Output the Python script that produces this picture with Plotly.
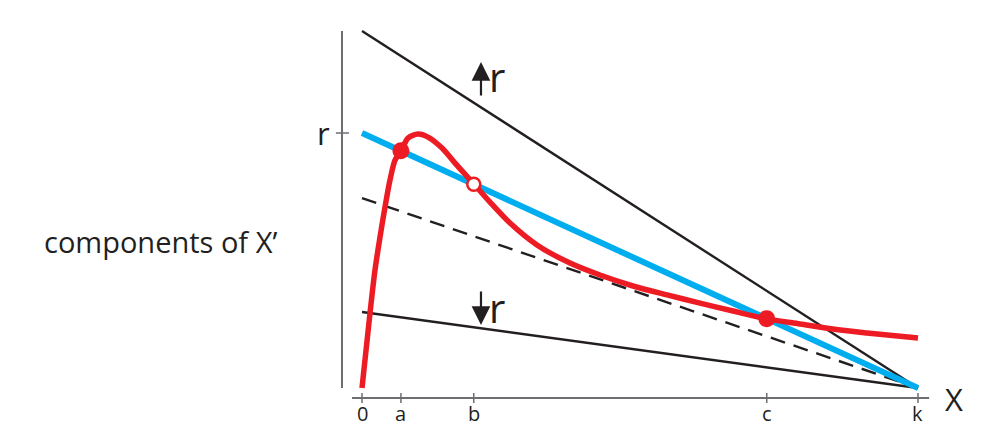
import plotly.graph_objects as go

# ---- data (x in units of carrying capacity k, y in units of r) ----
tick_labels = ["0", "a", "b", "c", "k"]
tick_values = [0.0, 0.070, 0.201, 0.728, 1.0]

k = 1.0
r = 1.0
# intercepts of the per-capita lines (value at X = 0)
line_names = ["higher r", "r", "dashed", "lower r"]
line_intercepts = [1.40, 1.00, 0.745, 0.298]

# red curve (components of X')
curve_x = [0.0, 0.0144, 0.0234, 0.0324, 0.0414, 0.0504, 0.0594, 0.0701, 0.0827,
           0.1007, 0.1187, 0.1439, 0.1673, 0.2014, 0.2302, 0.2662, 0.3147,
           0.3741, 0.428, 0.4874, 0.5486, 0.6079, 0.6673, 0.7284, 0.7878,
           0.8471, 0.9083, 1.0]
curve_y = [0.0, 0.294, 0.463, 0.592, 0.710, 0.816, 0.894, 0.929, 0.980,
           0.996, 0.984, 0.941, 0.882, 0.800, 0.729, 0.647, 0.561,
           0.490, 0.443, 0.400, 0.365, 0.333, 0.302, 0.271, 0.251,
           0.231, 0.216, 0.196]

stable_x = [0.070, 0.728]
unstable_x = [0.201]

BLACK = "#231f20"
BLUE = "#00aeef"
RED = "#ed1c24"
GREY = "#6d6e71"
FONT = "Open Sans"

fig = go.Figure()

# axes lines
fig.add_trace(go.Scatter(x=[-0.036, -0.036], y=[1.40, 0.0], mode="lines",
                         line=dict(color=GREY, width=2), hoverinfo="skip"))
fig.add_trace(go.Scatter(x=[-0.018, 1.02], y=[-0.039, -0.039], mode="lines",
                         line=dict(color=GREY, width=2), hoverinfo="skip"))
# x ticks
for tv in tick_values:
    fig.add_trace(go.Scatter(x=[tv, tv], y=[-0.0196, -0.0588], mode="lines",
                             line=dict(color=GREY, width=1.5), hoverinfo="skip"))
# y tick at r
fig.add_trace(go.Scatter(x=[-0.047, -0.0234], y=[r, r], mode="lines",
                         line=dict(color=GREY, width=1.5), hoverinfo="skip"))

# straight lines
styles = {
    "higher r": dict(color=BLACK, width=2.4),
    "r": dict(color=BLUE, width=6),
    "dashed": dict(color=BLACK, width=2.4, dash="15px,9px"),
    "lower r": dict(color=BLACK, width=2.4),
}
order = ["higher r", "lower r", "dashed", "r"]
for nm in order:
    b = line_intercepts[line_names.index(nm)]
    fig.add_trace(go.Scatter(x=[0, k], y=[b * r, 0], mode="lines",
                             line=styles[nm], hoverinfo="skip"))

# red curve
fig.add_trace(go.Scatter(x=curve_x, y=curve_y, mode="lines",
                         line=dict(color=RED, width=5.5, shape="spline", smoothing=0.8),
                         hoverinfo="skip"))

# equilibria on blue line
blue_b = line_intercepts[line_names.index("r")]
fig.add_trace(go.Scatter(x=stable_x, y=[blue_b * (1 - xv / k) for xv in stable_x],
                         mode="markers",
                         marker=dict(color=RED, size=17, line=dict(width=0)),
                         hoverinfo="skip"))
fig.add_trace(go.Scatter(x=unstable_x, y=[blue_b * (1 - xv / k) for xv in unstable_x],
                         mode="markers",
                         marker=dict(color="white", size=13, line=dict(color=RED, width=2.5)),
                         hoverinfo="skip"))

annotations = []
for lab, tv in zip(tick_labels, tick_values):
    annotations.append(dict(x=tv, y=-0.100, text=lab, showarrow=False,
                            font=dict(size=20, color=BLACK, family=FONT)))
annotations.append(dict(x=-0.070, y=r, text="r", showarrow=False, xanchor="center",
                        font=dict(size=31, color=BLACK, family=FONT)))
annotations.append(dict(x=1.065, y=-0.045, text="X", showarrow=False,
                        font=dict(size=31, color=BLACK, family=FONT)))
annotations.append(dict(x=-0.363, y=0.573, text="components of X\u2019", showarrow=False,
                        font=dict(size=29, color=BLACK, family=FONT)))
# arrows for r changes
annotations.append(dict(x=0.214, y=1.278, ax=0.214, ay=1.141, xref="x", yref="y",
                        axref="x", ayref="y", text="", showarrow=True,
                        arrowhead=2, arrowsize=1.7, arrowwidth=2.2, arrowcolor=BLACK,
                        standoff=0, startstandoff=0))
annotations.append(dict(x=0.242, y=1.222, text="r", showarrow=False,
                        font=dict(size=40, color=BLACK, family=FONT)))
annotations.append(dict(x=0.214, y=0.247, ax=0.214, ay=0.384, xref="x", yref="y",
                        axref="x", ayref="y", text="", showarrow=True,
                        arrowhead=2, arrowsize=1.7, arrowwidth=2.2, arrowcolor=BLACK,
                        standoff=0, startstandoff=0))
annotations.append(dict(x=0.242, y=0.316, text="r", showarrow=False,
                        font=dict(size=40, color=BLACK, family=FONT)))

fig.update_layout(
    width=1005, height=445, autosize=False,
    margin=dict(l=0, r=0, t=0, b=0),
    paper_bgcolor="white", plot_bgcolor="white",
    showlegend=False,
    xaxis=dict(range=[-0.6511, 1.1565], visible=False, fixedrange=True),
    yaxis=dict(range=[-0.2235, 1.5216], visible=False, fixedrange=True),
    annotations=annotations,
)

fig.write_html("out.html", config={"displayModeBar": False},
               post_script="document.body.style.margin='0';")
